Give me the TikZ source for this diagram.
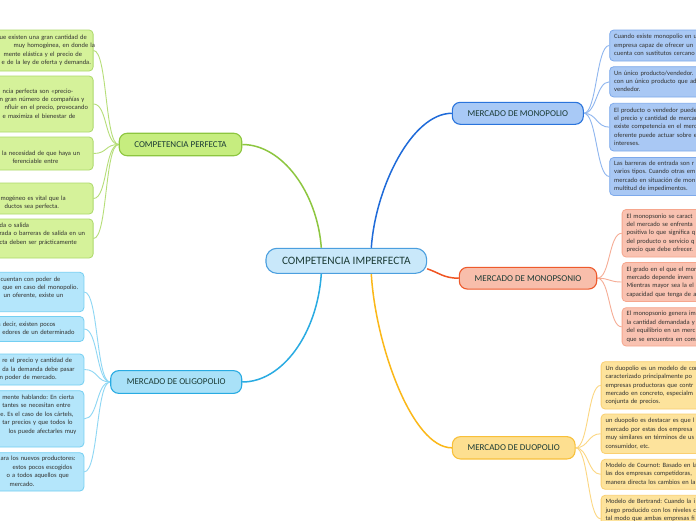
\documentclass[tikz,border=0pt]{standalone}
\usepackage{fontspec}
\setmainfont{Carlito}
\usetikzlibrary{backgrounds}
\frenchspacing
\definecolor{cfill}{HTML}{C9E8FA}\definecolor{cdraw}{HTML}{4B9FDF}
\definecolor{gmfill}{HTML}{C6ED7F}\definecolor{gmdraw}{HTML}{8DC63F}
\definecolor{glfill}{HTML}{D5F29A}\definecolor{gldraw}{HTML}{ADD96B}\definecolor{glconn}{HTML}{B6DE78}
\definecolor{kmfill}{HTML}{A9E1F8}\definecolor{kmdraw}{HTML}{29ABE2}
\definecolor{klfill}{HTML}{B4E6FB}\definecolor{kldraw}{HTML}{74CFF2}\definecolor{klconn}{HTML}{8ED7F4}
\definecolor{bmfill}{HTML}{A8C9F6}\definecolor{bmdraw}{HTML}{2A74DC}\definecolor{bconn}{HTML}{1F6BD9}
\definecolor{blfill}{HTML}{A9C8F4}\definecolor{bldraw}{HTML}{7DA9EB}\definecolor{blconn}{HTML}{8FB6EF}
\definecolor{smfill}{HTML}{F8BEAB}\definecolor{smdraw}{HTML}{EE5A2C}\definecolor{sconn}{HTML}{F05421}
\definecolor{slfill}{HTML}{F9C2B1}\definecolor{sldraw}{HTML}{F6A68D}\definecolor{slconn}{HTML}{F6AD96}
\definecolor{ymfill}{HTML}{FDDF90}\definecolor{ymdraw}{HTML}{F8C03A}\definecolor{yconn}{HTML}{FBB818}
\definecolor{ylfill}{HTML}{FDE39C}\definecolor{yldraw}{HTML}{FACF70}\definecolor{ylconn}{HTML}{FCD782}
\definecolor{maintext}{HTML}{1B3B35}\definecolor{leaftext}{HTML}{333331}
\newcommand{\txl}[2][0]{\mbox{\hspace*{#1pt}\strut #2}}
\tikzset{
  leaf/.style={draw, rounded corners=4pt, line width=0.8pt, inner ysep=0pt, inner xsep=4pt,
    align=left, font=\fontsize{6.5}{8.4}\selectfont\frenchspacing, text=leaftext},
  gleaf/.style={leaf, anchor=east, text width=89.5pt, fill=glfill, draw=gldraw},
  kleaf/.style={leaf, anchor=east, text width=80.3pt, fill=klfill, draw=kldraw},
  rleaf/.style={leaf, anchor=west, text width=150pt, inner xsep=4.5pt},
  bleaf/.style={rleaf, fill=blfill, draw=bldraw},
  sleaf/.style={rleaf, fill=slfill, draw=sldraw},
  yleaf/.style={rleaf, fill=ylfill, draw=yldraw},
  mainnode/.style={draw, rounded corners=8pt, line width=1.1pt, inner sep=0pt,
    font=\fontsize{9}{10}\selectfont, text=maintext},
  mconn/.style={line width=1.5pt},
  lconn/.style={line width=0.9pt},
}
\begin{document}
\begin{tikzpicture}[x=1pt,y=-1pt]
\useasboundingbox (0,0) rectangle (696,520);
\clip (0,0) rectangle (696,520);

% central and main nodes
\node[mainnode, fill=cfill, draw=cdraw, rounded corners=11pt, minimum width=160.7pt, minimum height=25pt,
  font=\fontsize{11.3}{12}\selectfont] (c) at (346.3,260.8) {COMPETENCIA IMPERFECTA};
\node[mainnode, fill=gmfill, draw=gmdraw, minimum width=122.5pt, minimum height=22.5pt] (cp) at (180.5,144.5) {COMPETENCIA PERFECTA};
\node[mainnode, fill=kmfill, draw=kmdraw, minimum width=131pt, minimum height=22.7pt] (oli) at (176.2,382) {MERCADO DE OLIGOPOLIO};
\node[mainnode, fill=bmfill, draw=bmdraw, minimum width=131pt, minimum height=22pt] (mono) at (517.8,113.3) {MERCADO DE MONOPOLIO};
\node[mainnode, fill=smfill, draw=smdraw, minimum width=137.4pt, minimum height=21.7pt] (mons) at (528,278.2) {MERCADO DE MONOPSONIO};
\node[mainnode, fill=ymfill, draw=ymdraw, minimum width=122.7pt, minimum height=22.3pt] (duo) at (513.7,447.8) {MERCADO DE DUOPOLIO};

% green leaves
\node[gleaf, minimum height=41pt] (g1) at (93.5,50.5) {\txl{ue existen una gran cantidad de}\\\txl[14]{muy homogénea, en donde la}\\\txl[4]{mente elástica y el precio de}\\\txl[2]{e de la ley de oferta y demanda.}};
\node[gleaf, minimum height=56pt] (g2) at (93.5,104) {\txl{}\\\txl[3]{ncia perfecta son «precio-}\\\txl{n gran número de compañías y}\\\txl[5]{nfluir en el precio, provocando}\\\txl[3]{e maximiza el bienestar de}\\\txl{}};
\node[gleaf, minimum height=33pt] (g3) at (93.5,153.5) {\txl{}\\\txl[2.5]{la necesidad de que haya un}\\\txl[13]{ferenciable entre}};
\node[gleaf, minimum height=31pt] (g4) at (93.5,198.5) {\txl{}\\\txl[1]{mogéneo es vital que la}\\\txl[5]{ductos sea perfecta.}};
\node[gleaf, minimum height=39pt] (g5) at (93.5,238.5) {\txl{da o salida}\\\txl{rada o barreras de salida en un}\\\txl{cta deben ser prácticamente}\\\txl{}};

% cyan leaves
\node[kleaf, minimum height=39.4pt] (k1) at (84.3,292) {\txl[1]{cuentan con poder de}\\\txl[3]{que en caso del monopolio.}\\\txl[4]{un oferente, existe un}\\\txl{}};
\node[kleaf, minimum height=25pt] (k2) at (84.3,329) {\txl[-1.5]{s decir, existen pocos}\\\txl[2.7]{edores de un determinado}};
\node[kleaf, minimum height=31pt] (k3) at (84.3,369.5) {\txl[2.7]{re el precio y cantidad de}\\\txl[2.7]{da la demanda debe pasar}\\\txl{n poder de mercado.}};
\node[kleaf, minimum height=56.3pt] (k4) at (84.3,418.85) {\txl[2.7]{mente hablando: En cierta}\\\txl[2.7]{tantes se necesitan entre}\\\txl[0.7]{e. Es el caso de los cártels,}\\\txl[2.7]{tar precios y que todos lo}\\\txl[9]{los puede afectarles muy}\\\txl{}};
\node[kleaf, minimum height=38.3pt] (k5) at (84.3,471.85) {\txl[1]{ara los nuevos productores:}\\\txl[13]{estos pocos escogidos}\\\txl[7]{o a todos aquellos que}\\\txl[10]{mercado.}};

% blue leaves
\node[bleaf, minimum height=31pt] (b1) at (609.3,45.5) {\txl{Cuando existe monopolio en u}\\\txl{empresa capaz de ofrecer un}\\\txl{cuenta con sustitutos cercano}};
\node[bleaf, minimum height=30.3pt] (b2) at (609.3,81.85) {\txl{Un único producto/vendedor.}\\\txl{con un único producto que ad}\\\txl{vendedor.}};
\node[bleaf, minimum height=47.7pt] (b3) at (609.3,127.15) {\txl{El producto o vendedor puede}\\\txl{el precio y cantidad de mercac}\\\txl{existe competencia en el merc}\\\txl{oferente puede actuar sobre e}\\\txl{intereses.}};
\node[bleaf, minimum height=38pt] (b4) at (609.3,176.5) {\txl{Las barreras de entrada son r}\\\txl{varios tipos. Cuando otras em}\\\txl{mercado en situación de mon}\\\txl{multitud de impedimentos.}};

% salmon leaves
\node[sleaf, minimum height=47.5pt] (s1) at (621.7,233.25) {\txl{El monopsonio se caract}\\\txl{del mercado se enfrenta}\\\txl{positiva lo que significa q}\\\txl{del producto o servicio q}\\\txl{precio que debe ofrecer.}};
\node[sleaf, minimum height=39pt] (s2) at (621.7,282) {\txl{El grado en el que el mon}\\\txl{mercado depende invers}\\\txl{Mientras mayor sea la el}\\\txl{capacidad que tenga de a}};
\node[sleaf, minimum height=38.3pt] (s3) at (621.7,326.85) {\txl{El monopsonio genera im}\\\txl{la cantidad demandada y}\\\txl{del equilibrio en un merc}\\\txl{que se encuentra en com}};

% yellow leaves
\node[yleaf, minimum height=47.3pt] (d1) at (600.7,385.35) {\txl{Un duopolio es un modelo de con}\\\txl{caracterizado principalmente po}\\\txl{empresas productoras que contr}\\\txl{mercado en concreto, especialm}\\\txl{conjunta de precios.}};
\node[yleaf, minimum height=39.5pt] (d2) at (600.7,433.75) {\txl{un duopolio es destacar es que l}\\\txl{mercado por estas dos empresa}\\\txl{muy similares en términos de us}\\\txl{consumidor, etc.}};
\node[yleaf, minimum height=30pt] (d3) at (600.7,474.3) {\txl{Modelo de Cournot: Basado en la}\\\txl{las dos empresas competidoras,}\\\txl{manera directa los cambios en la}};
\node[yleaf, minimum height=47pt] (d4) at (600.7,518.8) {\txl{Modelo de Bertrand: Cuando la i}\\\txl{juego producido con los niveles c}\\\txl{tal modo que ambas empresas fi}\\\txl{}\\\txl{}};

\begin{pgfonlayer}{background}
\fill[white] (0,0) rectangle (696,520);
% main connectors
\draw[mconn, gmdraw] ([xshift=-25pt]c.north) .. controls +(-4,-55) and +(40,0) .. (cp.east);
\draw[mconn, bconn] ([xshift=25pt]c.north) .. controls +(4,-60) and +(-40,0) .. (mono.west);
\draw[mconn, kmdraw] ([xshift=-25pt]c.south) .. controls +(-4,60) and +(40,0) .. (oli.east);
\draw[mconn, yconn] ([xshift=25pt]c.south) .. controls +(4,70) and +(-40,0) .. (duo.west);
\draw[mconn, sconn] ([yshift=-8pt]c.east) .. controls +(12,4) and +(-15,0) .. (mons.west);
% leaf connectors
\foreach \n in {g1,g2,g3,g4,g5}
  \draw[lconn, glconn] (cp.west) .. controls +(-14,0) and +(14,0) .. (\n.east);
\foreach \n in {k1,k2,k3,k4,k5}
  \draw[lconn, klconn] (oli.west) .. controls +(-14,0) and +(14,0) .. (\n.east);
\foreach \n in {b1,b2,b3,b4}
  \draw[lconn, blconn] (mono.east) .. controls +(13,0) and +(-13,0) .. (\n.west);
\foreach \n in {s1,s2,s3}
  \draw[lconn, slconn] (mons.east) .. controls +(13,0) and +(-13,0) .. (\n.west);
\foreach \n in {d1,d2,d3,d4}
  \draw[lconn, ylconn] (duo.east) .. controls +(13,0) and +(-13,0) .. (\n.west);
\end{pgfonlayer}
\end{tikzpicture}
\end{document}
